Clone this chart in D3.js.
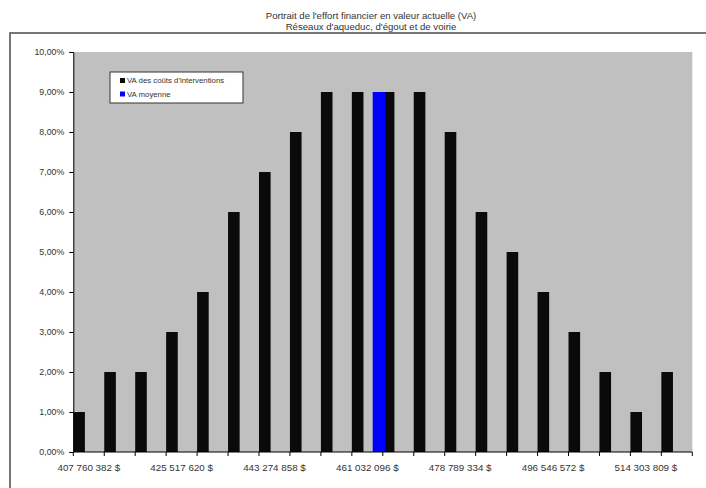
<!DOCTYPE html>
<html>
<head>
<meta charset="utf-8">
<script src="https://cdn.jsdelivr.net/npm/d3@7"></script>
<style>
  html, body { margin: 0; padding: 0; background: #fff; }
  svg { display: block; font-family: "Liberation Sans", Arial, sans-serif; }
</style>
</head>
<body>
<svg id="chart" width="706" height="488"></svg>
<script>
// Bin lower bounds (present value, $)
const binStarts = [407760382, 413679461, 419598541, 425517620, 431436699, 437355779,
  443274858, 449193937, 455113017, 461032096, 466951175, 472870255, 478789334,
  484708413, 490627493, 496546572, 502465651, 508384731, 514303809, 520222889];
// Share of simulations falling in each bin
const shares = [0.01, 0.02, 0.02, 0.03, 0.04, 0.06, 0.07, 0.08, 0.09, 0.09,
  0.09, 0.09, 0.08, 0.06, 0.05, 0.04, 0.03, 0.02, 0.01, 0.02];
// Mean present value and its marker height
const meanVA = [465020000];
const meanShare = [0.09];
const yTicks = [0, 0.01, 0.02, 0.03, 0.04, 0.05, 0.06, 0.07, 0.08, 0.09, 0.10];
const labelledBins = [0, 3, 6, 9, 12, 15, 18];
const titleLines = ["Portrait de l'effort financier en valeur actuelle (VA)",
  "Réseaux d'aqueduc, d'égout et de voirie"];
const legendItems = [
  { label: "VA des coûts d'interventions", color: "#0a0a0a" },
  { label: "VA moyenne", color: "#0000ff" }
];

const fr = d3.formatLocale({ decimal: ",", thousands: " ", grouping: [3], currency: ["", " $"] });
const fmtMoney = v => fr.format(",.0f")(v) + " $";
const fmtPct = fr.format(".2%");

const svg = d3.select("#chart");
const plot = { left: 73.3, right: 692.3, top: 52, bottom: 452 };

// outer chart frame (extends past the window)
svg.append("rect")
  .attr("x", 10).attr("y", 33).attr("width", 720).attr("height", 480)
  .attr("fill", "#fff").attr("stroke", "#555").attr("stroke-width", 1.6);

// titles
svg.selectAll("text.title").data(titleLines).enter().append("text")
  .attr("class", "title")
  .attr("x", 371).attr("y", (d, i) => 19 + i * 11)
  .attr("text-anchor", "middle")
  .attr("font-size", 9.6).attr("fill", "#333")
  .text(d => d);

const x = d3.scaleBand()
  .domain(binStarts.map((d, i) => i))
  .range([plot.left, plot.right])
  .paddingInner(0).paddingOuter(0);

const step = binStarts[1] - binStarts[0];
const xv = d3.scaleLinear()
  .domain([binStarts[0], binStarts[binStarts.length - 1] + step])
  .range([plot.left, plot.right]);

const y = d3.scaleLinear().domain([0, 0.10]).range([plot.bottom, plot.top]);

// plot background
svg.append("rect")
  .attr("x", plot.left).attr("y", plot.top)
  .attr("width", plot.right - plot.left).attr("height", plot.bottom - plot.top)
  .attr("fill", "#c0c0c0");

const barW = x.bandwidth() * 0.375;

// distribution bars
svg.append("g").selectAll("rect").data(shares).enter().append("rect")
  .attr("x", (d, i) => x(i))
  .attr("y", d => y(d))
  .attr("width", barW)
  .attr("height", d => y(0) - y(d))
  .attr("fill", "#0a0a0a");

// mean marker
svg.append("g").selectAll("rect").data(meanVA).enter().append("rect")
  .attr("x", d => xv(d))
  .attr("y", (d, i) => y(meanShare[i]))
  .attr("width", x.bandwidth() * 0.4)
  .attr("height", (d, i) => y(0) - y(meanShare[i]))
  .attr("fill", "#0000ff");

// y axis
const yAxis = d3.axisLeft(y).tickValues(yTicks).tickFormat(fmtPct).tickSize(4).tickPadding(5);
const gy = svg.append("g").attr("transform", `translate(${plot.left},0)`).call(yAxis);
gy.select(".domain").attr("stroke", "#000");
gy.selectAll(".tick line").attr("stroke", "#000");
gy.selectAll("text").attr("font-size", 8.8).attr("fill", "#333")
  .attr("font-family", "Liberation Sans, Arial, sans-serif");

// x axis: ticks on bin boundaries, labels on selected bin centres
const xAxisLine = svg.append("g");
xAxisLine.append("line")
  .attr("x1", plot.left).attr("x2", plot.right)
  .attr("y1", plot.bottom).attr("y2", plot.bottom)
  .attr("stroke", "#000");
const boundaries = binStarts.map((d, i) => i).concat([binStarts.length]);
xAxisLine.selectAll("line.tk").data(boundaries).enter().append("line")
  .attr("class", "tk")
  .attr("x1", d => plot.left + d * x.step()).attr("x2", d => plot.left + d * x.step())
  .attr("y1", plot.bottom).attr("y2", plot.bottom + 4)
  .attr("stroke", "#000");
xAxisLine.selectAll("text").data(labelledBins).enter().append("text")
  .attr("x", d => x(d) + x.bandwidth() / 2)
  .attr("y", 471)
  .attr("text-anchor", "middle")
  .attr("font-size", 9.8).attr("fill", "#333")
  .text(d => fmtMoney(binStarts[d]));

// legend
const lg = svg.append("g").attr("transform", "translate(110,72)");
lg.append("rect").attr("width", 133).attr("height", 31)
  .attr("fill", "#fff").attr("stroke", "#333").attr("stroke-width", 1);
const li = lg.selectAll("g.item").data(legendItems).enter().append("g")
  .attr("class", "item")
  .attr("transform", (d, i) => `translate(10,${8.5 + i * 13.5})`);
li.append("rect").attr("width", 5).attr("height", 5).attr("y", -2.5).attr("fill", d => d.color);
li.append("text").attr("x", 7).attr("y", 2.8)
  .attr("font-size", 7.8).attr("fill", "#333")
  .text(d => d.label);
</script>
</body>
</html>
